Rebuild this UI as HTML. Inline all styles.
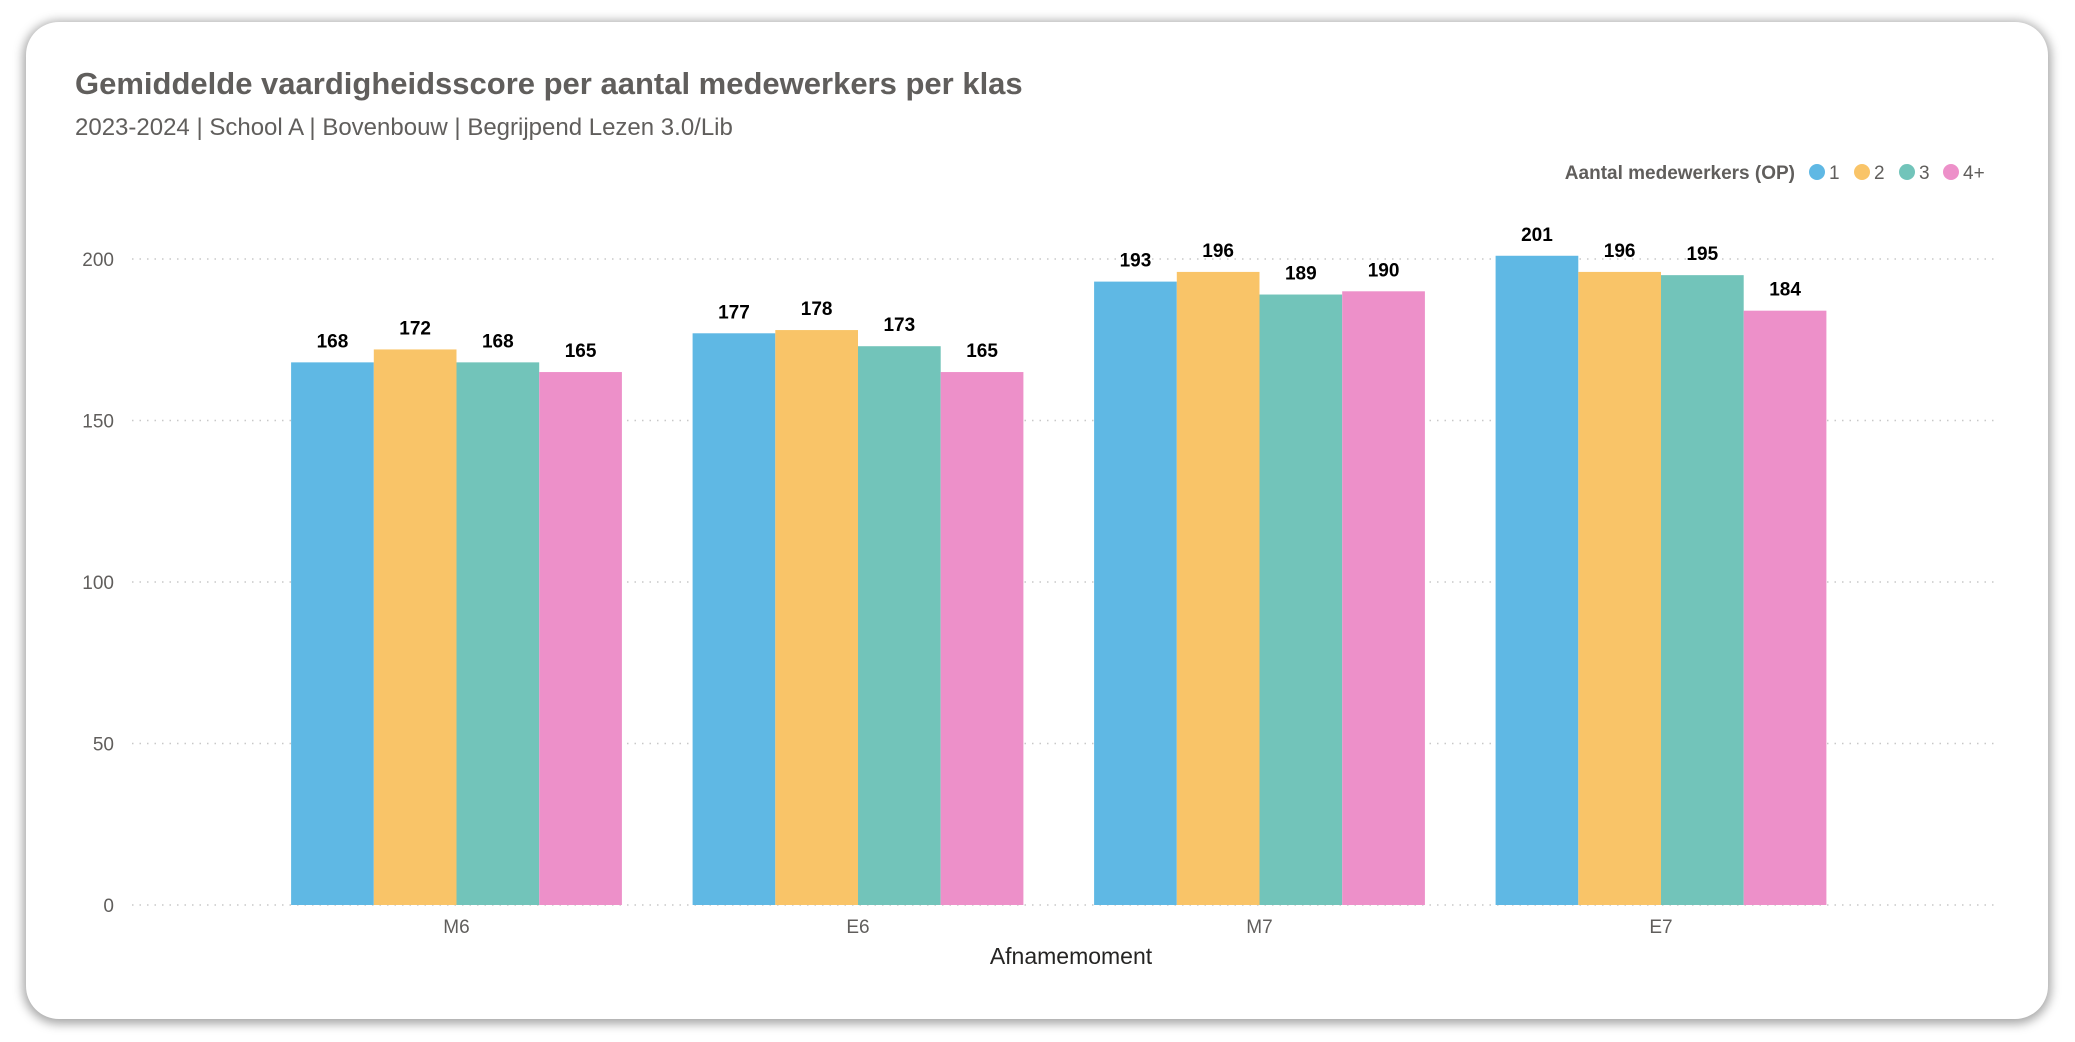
<!DOCTYPE html>
<html><head><meta charset="utf-8"><style>
body{margin:0;width:2075px;height:1042px;background:#fff;overflow:hidden;font-family:"Liberation Sans",sans-serif}
#card{position:absolute;left:26px;top:22px;width:2022px;height:997px;border-radius:33px;background:#fff;box-shadow:0 2px 10px 3px rgba(0,0,0,0.35)}
</style></head><body>
<div id="card"></div>
<svg id="chart" width="2075" height="1042" style="position:absolute;left:0;top:0">
<text x="75" y="94" font-size="31" font-weight="bold" fill="#605e5c">Gemiddelde vaardigheidsscore per aantal medewerkers per klas</text>
<text x="75" y="135" font-size="24" fill="#605e5c">2023-2024 | School A | Bovenbouw | Begrijpend Lezen 3.0/Lib</text>
<g id="legend">
<text x="1795" y="179" font-size="19" font-weight="bold" fill="#605e5c" text-anchor="end">Aantal medewerkers (OP)</text>
</g>
<g id="grid"></g><g id="bars"></g>
<text x="1071" y="964" font-size="23" fill="#252423" text-anchor="middle">Afnamemoment</text>
</svg>
<script>
const categories=["M6","E6","M7","E7"];
const seriesNames=["1","2","3","4+"];
const s1=[168,177,193,201];
const s2=[172,178,196,196];
const s3=[168,173,189,195];
const s4=[165,165,190,184];
const yTicks=[0,50,100,150,200];
const series=[s1,s2,s3,s4];
const colors=["#5fb8e4","#f9c468","#72c4ba","#ed90c9"];
const NS="http://www.w3.org/2000/svg";
const y0=905,pxPer=(905-259)/200;
const y=v=>y0-v*pxPer;
const cx=i=>456.5+i*401.5;
const bw=82.7;
function mk(t,a,p){const e=document.createElementNS(NS,t);for(const k in a)e.setAttribute(k,a[k]);p.appendChild(e);return e;}
const grid=document.getElementById('grid'),bars=document.getElementById('bars'),legend=document.getElementById('legend');
yTicks.forEach(t=>{
 const l=mk('line',{x1:132,x2:1995,y1:y(t),y2:y(t),stroke:'#c8c8c8','stroke-width':1.5,'stroke-dasharray':'1.5 6'},grid);
 
 
 const tx=mk('text',{x:114,y:y(t)+7,'font-size':19,fill:'#605e5c','text-anchor':'end'},grid);
 tx.textContent=t;
 
 
});
categories.forEach((c,i)=>{
 const tx=mk('text',{x:cx(i),y:933,'font-size':19,fill:'#605e5c','text-anchor':'middle'},grid);
 tx.textContent=c;
 
 
 series.forEach((s,j)=>{
  const x=cx(i)-2*bw+j*bw;
  const r=mk('rect',{x:x,y:y(s[i]),width:bw,height:y0-y(s[i]),fill:colors[j]},bars);
  
  
  const lb=mk('text',{x:x+bw/2,y:y(s[i])-15,'font-size':19,'font-weight':'bold',fill:'#000','text-anchor':'middle'},bars);
  lb.textContent=s[i];
  
  
 });
});
const lx=[1817,1862,1907,1951];
seriesNames.forEach((n,j)=>{
 const d=mk('circle',{cx:lx[j],cy:172,r:8,fill:colors[j]},legend);
 
 
 const t=mk('text',{x:lx[j]+12,y:179,'font-size':19,fill:'#605e5c'},legend);
 t.textContent=n;
 
 
});
</script>
</body></html>
